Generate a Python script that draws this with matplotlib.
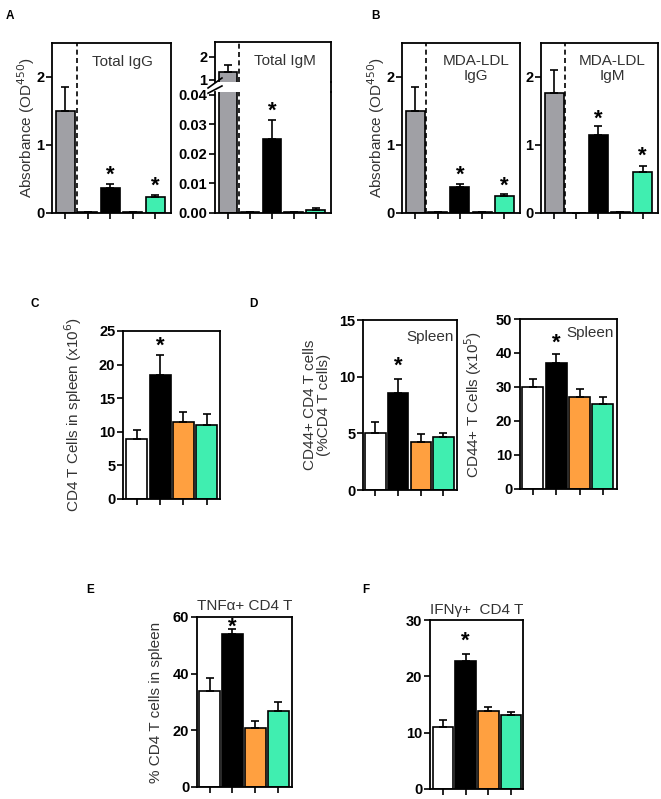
import matplotlib.pyplot as plt
from matplotlib.lines import Line2D
import numpy as np

plt.rcParams['font.family'] = ['Liberation Sans', 'DejaVu Sans']

GRAY = '#a0a0a5'
GREEN = '#40eeb0'
ORANGE = '#ffa040'

# panels A / B: five groups, two are empty controls
ab_colors = [GRAY, 'white', 'black', 'white', GREEN]
igg_total = [1.50, 0.01, 0.37, 0.01, 0.24]
igg_total_err = [0.35, 0.0, 0.05, 0.0, 0.03]
igm_total = [1.35, 0.0002, 0.025, 0.0002, 0.001]
igm_total_err = [0.30, 0.0, 0.0065, 0.0, 0.0008]
mda_igg = [1.50, 0.01, 0.38, 0.01, 0.25]
mda_igg_err = [0.35, 0.0, 0.04, 0.0, 0.025]
mda_igm = [1.77, 0.0, 1.15, 0.02, 0.61]
mda_igm_err = [0.33, 0.0, 0.13, 0.0, 0.08]

# panels C-F: four groups
cf_colors = ['white', 'black', ORANGE, GREEN]
cd4_spleen = [9.0, 18.5, 11.5, 11.0]
cd4_spleen_err = [1.3, 3.0, 1.5, 1.7]
cd44_pct = [5.0, 8.6, 4.2, 4.65]
cd44_pct_err = [1.0, 1.2, 0.75, 0.4]
cd44_num = [30.0, 37.0, 27.2, 25.0]
cd44_num_err = [2.5, 2.8, 2.3, 2.0]
tnf = [34.0, 54.0, 21.0, 27.0]
tnf_err = [4.6, 1.6, 2.2, 3.0]
ifn = [11.0, 22.7, 13.8, 13.1]
ifn_err = [1.2, 1.3, 0.8, 0.6]

W, H = 661, 799
fig = plt.figure(figsize=(W / 100, H / 100), dpi=100)

LBL = 11
TXT = '#333333'


def add_ax(x0, y0, x1, y1):
    return fig.add_axes([x0 / W, 1 - y1 / H, (x1 - x0) / W, (y1 - y0) / H])


def style(ax, n):
    for s in ax.spines.values():
        s.set_linewidth(1.3)
    ax.set_xticks(np.arange(n))
    ax.set_xticklabels([])
    ax.tick_params(axis='both', direction='out', width=1.2, length=4,
                   labelsize=10.5, pad=1.5)
    for lab in ax.get_yticklabels():
        lab.set_fontweight('bold')


def bars(ax, vals, errs, colors, width):
    x = np.arange(len(vals))
    ax.bar(x, vals, width, color=colors, edgecolor='black', linewidth=1.2, zorder=2)
    ax.errorbar(x, vals, yerr=[np.zeros(len(errs)), errs], fmt='none',
                ecolor='black', elinewidth=1.2, capsize=3, capthick=1.2, zorder=3)


def star(ax, i, y):
    ax.text(i, y, '*', ha='center', va='center', fontsize=16, fontweight='bold')


def ylab(ax, text, x):
    ax.set_ylabel(text, fontsize=LBL, color=TXT, linespacing=1.0)
    ax.yaxis.set_label_coords(x, 0.5)


# ---- A left: total IgG
ax = add_ax(52, 43, 171, 213)
bars(ax, igg_total, igg_total_err, ab_colors, 0.85)
ax.set_xlim(-0.6, 4.7)
ax.set_ylim(0, 2.5)
ax.set_yticks([0, 1, 2])
ax.axvline(0.5, color='black', ls=(0, (3, 2)), lw=1.2)
style(ax, 5)
star(ax, 2, 0.55)
star(ax, 4, 0.40)
ax.text(0.59, 0.89, 'Total IgG', transform=ax.transAxes, ha='center', va='center',
        fontsize=LBL, color=TXT)
ylab(ax, 'Absorbance (OD$^{450}$)', -0.13)

# ---- A right: total IgM, broken axis
top = add_ax(215, 42, 331, 82)
bot = add_ax(215, 92, 331, 213)
bars(top, igm_total, igm_total_err, ab_colors, 0.85)
bars(bot, igm_total, igm_total_err, ab_colors, 0.85)
for a in (top, bot):
    a.set_xlim(-0.6, 4.7)
    a.axvline(0.5, color='black', ls=(0, (3, 2)), lw=1.2)
    style(a, 5)
top.set_ylim(0.9, 2.65)
top.set_yticks([1, 2])
top.spines['bottom'].set_visible(False)
top.tick_params(axis='x', length=0)
bot.set_ylim(0, 0.041)
bot.set_yticks([0, 0.01, 0.02, 0.03, 0.04])
bot.set_yticklabels(['0.00', '0.01', '0.02', '0.03', '0.04'], fontweight='bold')
bot.spines['top'].set_visible(False)
for lab in top.get_yticklabels():
    lab.set_fontweight('bold')
# break marks and continuous right edge
top.plot([-0.06, 0.06], [-0.15, 0.1], transform=top.transAxes, color='black',
         lw=1.2, clip_on=False)
bot.plot([-0.06, 0.06], [0.99, 1.05], transform=bot.transAxes, color='black',
         lw=1.2, clip_on=False)
fig.add_artist(Line2D([331 / W, 331 / W], [1 - 92 / H, 1 - 82 / H], color='black', lw=1.3))
star(bot, 2, 0.0345)
fig.text(285 / W, 1 - 61 / H, 'Total IgM', ha='center', va='center',
         fontsize=LBL, color=TXT)

# ---- B left: MDA-LDL IgG
ax = add_ax(402, 43, 520, 213)
bars(ax, mda_igg, mda_igg_err, ab_colors, 0.85)
ax.set_xlim(-0.6, 4.7)
ax.set_ylim(0, 2.5)
ax.set_yticks([0, 1, 2])
ax.axvline(0.5, color='black', ls=(0, (3, 2)), lw=1.2)
style(ax, 5)
star(ax, 2, 0.55)
star(ax, 4, 0.40)
ax.text(0.63, 0.85, 'MDA-LDL\nIgG', transform=ax.transAxes, ha='center', va='center',
        fontsize=LBL, color=TXT, linespacing=1.05)
ylab(ax, 'Absorbance (OD$^{450}$)', -0.13)

# ---- B right: MDA-LDL IgM
ax = add_ax(541, 43, 658, 213)
bars(ax, mda_igm, mda_igm_err, ab_colors, 0.85)
ax.set_xlim(-0.6, 4.7)
ax.set_ylim(0, 2.5)
ax.set_yticks([0, 1, 2])
ax.axvline(0.5, color='black', ls=(0, (3, 2)), lw=1.2)
style(ax, 5)
star(ax, 2, 1.38)
star(ax, 4, 0.83)
ax.text(0.61, 0.85, 'MDA-LDL\nIgM', transform=ax.transAxes, ha='center', va='center',
        fontsize=LBL, color=TXT, linespacing=1.05)

# ---- C
ax = add_ax(123, 331, 220, 499)
bars(ax, cd4_spleen, cd4_spleen_err, cf_colors, 0.9)
ax.set_xlim(-0.6, 3.57)
ax.set_ylim(0, 25)
ax.set_yticks(np.arange(0, 26, 5))
style(ax, 4)
star(ax, 1, 22.8)
ylab(ax, 'CD4 T Cells in spleen (x10$^6$)', -0.40)

# ---- D left
ax = add_ax(363, 320, 457, 490)
bars(ax, cd44_pct, cd44_pct_err, cf_colors, 0.9)
ax.set_xlim(-0.55, 3.6)
ax.set_ylim(0, 15)
ax.set_yticks([0, 5, 10, 15])
style(ax, 4)
star(ax, 1, 10.9)
ax.text(0.96, 0.9, 'Spleen', transform=ax.transAxes, ha='right', va='center',
        fontsize=LBL, color=TXT)
ylab(ax, 'CD44+ CD4 T cells\n(%CD4 T cells)', -0.34)

# ---- D right
ax = add_ax(520, 319, 617, 489)
bars(ax, cd44_num, cd44_num_err, cf_colors, 0.9)
ax.set_xlim(-0.55, 3.6)
ax.set_ylim(0, 50)
ax.set_yticks(np.arange(0, 51, 10))
style(ax, 4)
star(ax, 1, 42.8)
ax.text(0.97, 0.92, 'Spleen', transform=ax.transAxes, ha='right', va='center',
        fontsize=LBL, color=TXT)
ylab(ax, 'CD44+ T Cells (x10$^5$)', -0.37)

# ---- E
ax = add_ax(197, 617, 292, 787)
bars(ax, tnf, tnf_err, cf_colors, 0.9)
ax.set_xlim(-0.55, 3.6)
ax.set_ylim(0, 60)
ax.set_yticks([0, 20, 40, 60])
style(ax, 4)
star(ax, 1, 56.3)
ax.set_title('TNFα+ CD4 T', fontsize=LBL, color=TXT, pad=5)
ylab(ax, '% CD4 T cells in spleen', -0.36)

# ---- F
ax = add_ax(430, 620, 523, 789)
bars(ax, ifn, ifn_err, cf_colors, 0.9)
ax.set_xlim(-0.57, 3.53)
ax.set_ylim(0, 30)
ax.set_yticks([0, 10, 20, 30])
style(ax, 4)
star(ax, 1, 26.2)
ax.set_title('IFNγ+  CD4 T', fontsize=LBL, color=TXT, pad=4)

# panel letters
for letter, x, y in [('A', 10, 16), ('B', 375, 16), ('C', 35, 304), ('D', 253, 304),
                     ('E', 90, 590), ('F', 366, 590)]:
    fig.text(x / W, 1 - y / H, letter, fontsize=8.5, fontweight='bold',
             ha='center', va='center')

fig.savefig('out.png', dpi=100)
